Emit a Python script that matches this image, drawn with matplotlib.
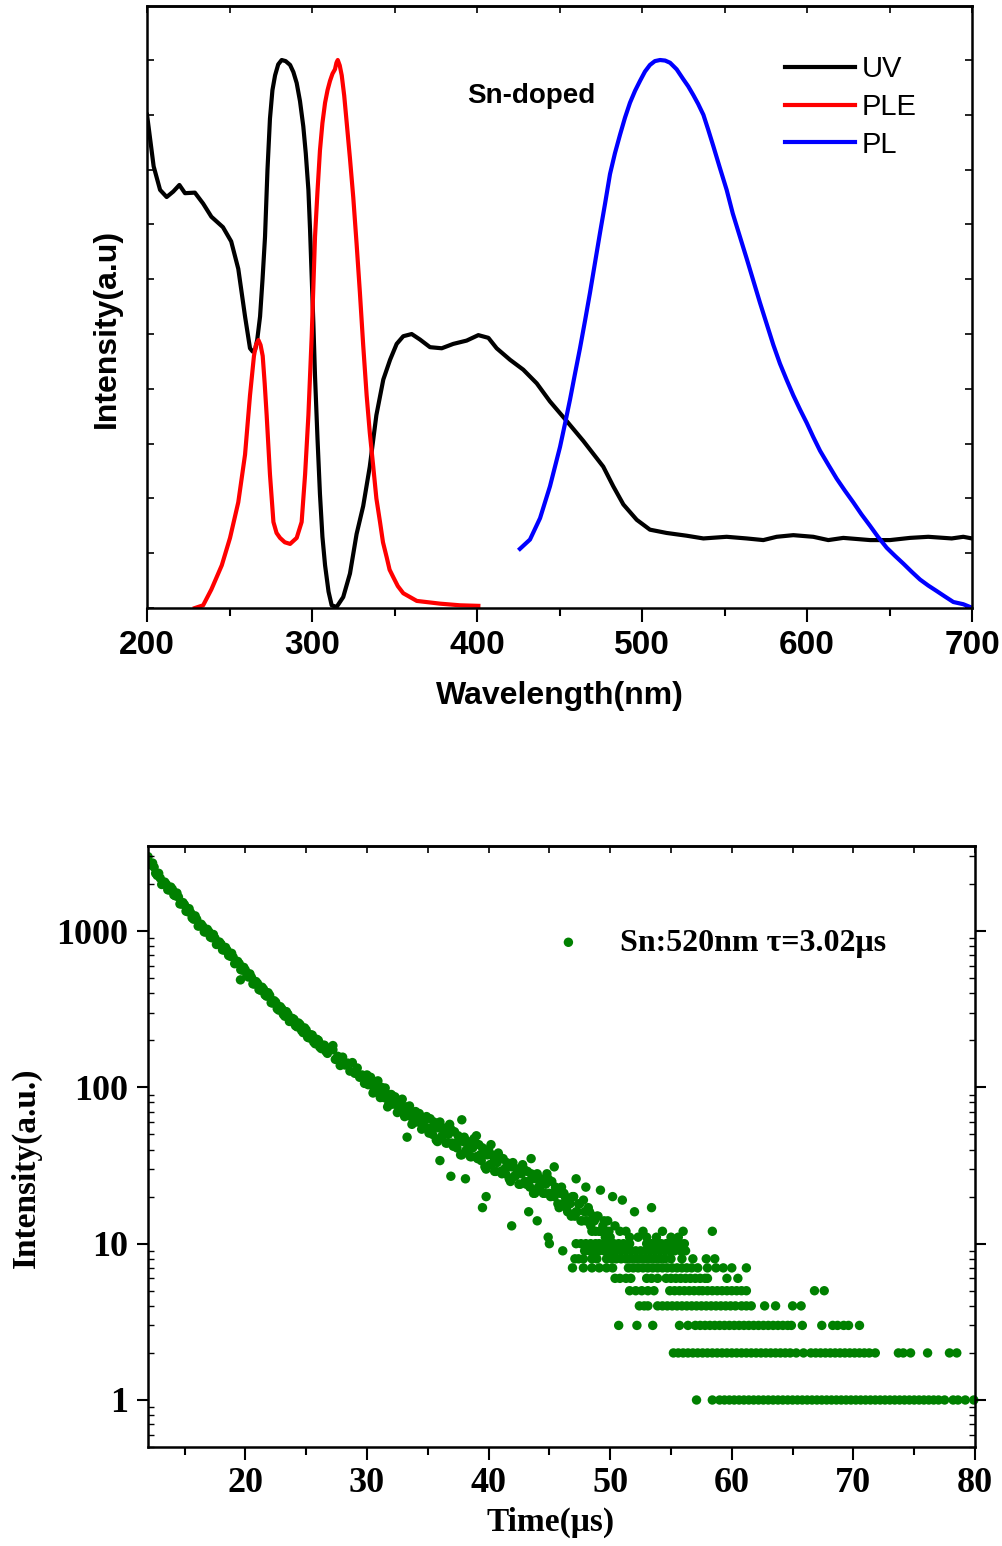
import matplotlib
matplotlib.use('Agg')
import matplotlib.pyplot as plt
from matplotlib import font_manager
from matplotlib.ticker import MultipleLocator, LogLocator, NullFormatter, FixedLocator

# ---- top panel: UV / PLE / PL spectra (normalised) ----
uv_x = [200, 204, 207.9, 211.9, 215.9, 219.6, 223, 229, 234, 239, 246, 251, 255.3, 259.4, 262.4,
        264, 265.5, 266.8, 268.5, 270, 271.5, 273, 274.5, 276, 277.6, 279.5, 281.6, 284, 286.7,
        288.7, 290.7, 292.7, 294.7, 296.2, 297.8, 298.8, 299.8, 300.8, 301.8, 303.3, 304.8, 306.3,
        307.9, 310, 311.9, 314.9, 318.9, 323, 327, 331, 335, 339, 343.2, 347.3, 351.3, 355.3, 360.4,
        365.4, 371.5, 378.6, 385.6, 393.7, 400.8, 406.9, 411.9, 420, 428, 436.2, 444.2, 454.4,
        464.4, 476.5, 482.6, 488.7, 496.8, 504.8, 514.9, 527, 537.2, 551.3, 563.4, 573.5, 581.6,
        591.7, 603.8, 612.9, 622, 638.2, 650.3, 662.4, 673.5, 687.7, 694.7, 700]
uv_y = [0.900, 0.806, 0.763, 0.750, 0.760, 0.772, 0.757, 0.758, 0.738, 0.714, 0.695, 0.669, 0.619,
        0.532, 0.474, 0.468, 0.471, 0.490, 0.532, 0.600, 0.677, 0.800, 0.893, 0.945, 0.972, 0.992,
        1.0, 0.998, 0.991, 0.978, 0.958, 0.925, 0.879, 0.830, 0.763, 0.690, 0.604, 0.520, 0.424,
        0.310, 0.208, 0.130, 0.078, 0.030, 0.005, 0.002, 0.02, 0.063, 0.135, 0.186, 0.258, 0.352,
        0.417, 0.453, 0.482, 0.496, 0.500, 0.490, 0.476, 0.474, 0.482, 0.488, 0.498, 0.493, 0.474,
        0.453, 0.435, 0.410, 0.377, 0.341, 0.305, 0.258, 0.222, 0.189, 0.161, 0.143, 0.137, 0.132,
        0.127, 0.130, 0.127, 0.124, 0.130, 0.133, 0.130, 0.124, 0.128, 0.124, 0.124, 0.128, 0.130,
        0.127, 0.130, 0.127]

ple_x = [229, 234, 239, 245.3, 250.3, 255.3, 259.4, 262.4, 264.8, 266, 267.5, 268.8, 270.1, 271.3,
         272.5, 274.5, 276.6, 278.5, 280.6, 283.5, 286.7, 290.7, 293.7, 295.8, 297.8, 299.8, 301.8,
         303.3, 304.8, 306.3, 307.9, 309.4, 310.9, 312.4, 313.9, 314.8, 315.6, 316.8, 318.0, 319.5,
         321.0, 323, 325, 327, 329, 331, 333.1, 335, 337.1, 339, 341.2, 343, 345.3, 347, 349.3, 352,
         355.3, 363.5, 377.6, 389.7, 400.8]
ple_y = [0.0, 0.005, 0.034, 0.078, 0.128, 0.193, 0.280, 0.388, 0.460, 0.480, 0.489, 0.480, 0.460,
         0.410, 0.352, 0.244, 0.157, 0.137, 0.128, 0.120, 0.117, 0.128, 0.157, 0.244, 0.352, 0.496,
         0.677, 0.760, 0.835, 0.885, 0.922, 0.945, 0.962, 0.975, 0.983, 0.995, 1.0, 0.990, 0.972,
         0.935, 0.886, 0.820, 0.749, 0.665, 0.576, 0.480, 0.388, 0.320, 0.258, 0.200, 0.157, 0.120,
         0.092, 0.070, 0.056, 0.040, 0.027, 0.013, 0.008, 0.005, 0.004]

pl_x = [426, 432.1, 438.2, 444.2, 450.3, 453.3, 456.4, 459.4, 462.4, 465.5, 468.5, 471.5, 474.5,
        477.6, 480.6, 483.6, 486.7, 489.7, 492.7, 495.8, 498.8, 501.8, 504.8, 507.8, 510.9, 514,
        517, 521, 525, 528, 531.1, 534, 537.2, 540, 543.2, 547, 551.3, 555, 559.4, 563.5, 567.5,
        571.5, 575.6, 579.6, 583.6, 587.7, 591.7, 595.8, 599.8, 603.8, 607.9, 613, 618, 623, 628,
        633, 638.2, 643, 648.3, 653.4, 658.4, 663.5, 668.5, 673.5, 678.6, 683.6, 688.7, 694.7,
        698.8]
pl_y = [0.108, 0.125, 0.164, 0.222, 0.294, 0.336, 0.381, 0.428, 0.474, 0.525, 0.576, 0.630, 0.684,
        0.738, 0.792, 0.830, 0.864, 0.895, 0.922, 0.944, 0.962, 0.979, 0.991, 0.998, 1.0, 0.999,
        0.995, 0.983, 0.965, 0.952, 0.936, 0.920, 0.900, 0.874, 0.843, 0.805, 0.763, 0.720, 0.677,
        0.637, 0.597, 0.557, 0.518, 0.480, 0.446, 0.416, 0.388, 0.362, 0.338, 0.312, 0.287, 0.261,
        0.236, 0.214, 0.193, 0.171, 0.150, 0.130, 0.110, 0.095, 0.081, 0.066, 0.052, 0.041, 0.031,
        0.021, 0.011, 0.007, 0.002]

# ---- bottom panel: decay curve (counts vs time) ----
band1_t = [12.0, 12.25, 12.5, 12.75, 13.0, 13.25, 13.5, 13.75, 14.0, 14.25, 14.5, 14.75, 15.0, 15.25,
           15.5, 15.75, 16.0, 16.25, 16.5, 16.75, 17.0, 17.25, 17.5, 17.75, 18.0, 18.25, 18.5, 18.75,
           19.0, 19.25, 19.5, 19.75, 20.0, 20.25, 20.5, 20.75, 21.0, 21.25, 21.5, 21.75, 22.0, 22.25,
           22.5, 22.75, 23.0, 23.25, 23.5, 23.75, 24.0, 24.25, 24.5, 24.75, 25.0, 25.25, 25.5, 25.75,
           26.0, 26.25, 26.5, 26.75, 27.0]
band1_i = [2990, 2650, 2560, 2270, 2180, 2000, 1990, 1830, 1850, 1680, 1650, 1490, 1470, 1330, 1310,
           1190, 1190, 1080, 1070, 985, 990, 905, 900, 828, 825, 755, 752, 690, 680, 622, 618, 562,
           562, 508, 506, 458, 462, 418, 424, 383, 388, 346, 350, 312, 318, 285, 294, 264, 272, 244,
           252, 224, 233, 207, 216, 190, 200, 177, 186, 165, 176]

band1b_t = [12.125, 12.375, 12.625, 12.875, 13.125, 13.375, 13.625, 13.875, 14.125, 14.375, 14.625,
            14.875, 15.125, 15.375, 15.625, 15.875, 16.125, 16.375, 16.625, 16.875, 17.125, 17.375,
            17.625, 17.875, 18.125, 18.375, 18.625, 18.875, 19.125, 19.375, 19.625, 19.875, 20.125,
            20.375, 20.625, 20.875, 21.125, 21.375, 21.625, 21.875, 22.125, 22.375, 22.625, 22.875,
            23.125, 23.375, 23.625, 23.875, 24.125, 24.375, 24.625, 24.875, 25.125, 25.375, 25.625,
            25.875, 26.125, 26.375, 26.625, 26.875]
band1b_i = [2720, 2720, 2340, 2340, 1985, 2055, 1835, 1910, 1700, 1750, 1490, 1520, 1340, 1390,
            1215, 1250, 1075, 1105, 987, 1025, 915, 950, 820, 850, 758, 785, 698, 720, 618, 639,
            566, 585, 519, 532, 459, 475, 422, 437, 390, 403, 348, 358, 318, 328, 293, 305, 264,
            276, 248, 258, 231, 240, 209, 217, 195, 203, 181, 186, 170, 178]

band2_t = [27.2, 27.4, 27.6, 27.8, 28.0, 28.2, 28.4, 28.6, 28.8, 29.0, 29.2, 29.4, 29.6, 29.8, 30.0,
           30.2, 30.4, 30.6, 30.8, 31.0, 31.2, 31.4, 31.6, 31.8, 32.0, 32.2, 32.4, 32.6, 32.8, 33.0,
           33.2, 33.4, 33.6, 33.8, 34.0, 34.2, 34.4, 34.6, 34.8, 35.0, 35.2, 35.4, 35.6, 35.8, 36.0,
           36.2, 36.4, 36.6, 36.8, 37.0, 37.2, 37.4, 37.6, 37.8, 38.0, 38.2, 38.4, 38.6, 38.8, 39.0,
           39.2, 39.4, 39.6, 39.8, 40.0, 40.2, 40.4, 40.6, 40.8, 41.0, 41.2, 41.4, 41.6, 41.8, 42.0,
           42.2, 42.4, 42.6, 42.8, 43.0, 43.2, 43.4, 43.6, 43.8, 44.0, 44.2, 44.4, 44.6, 44.8, 45.0,
           45.2, 45.4, 45.6, 45.8, 46.0, 46.2, 46.4, 46.6, 46.8, 47.0, 47.2, 47.4, 47.6, 47.8, 48.0,
           48.2, 48.4, 48.6, 48.8, 49.0, 49.2, 49.4, 49.6, 49.8, 50.0]
band2_i = [174, 151, 158, 138, 156, 139, 143, 127, 144, 123,
           133, 116, 120, 106, 120, 107, 109, 96, 108, 92,
           100, 86, 91, 79, 90, 80, 81, 72, 82, 70,
           75, 66, 69, 61, 70, 62, 64, 56, 63, 55,
           63, 50, 57, 45, 60, 49, 53, 44, 58, 44,
           52, 41, 46, 37, 48, 40, 44, 36, 47, 36,
           43, 34, 38, 30, 40, 32, 36, 29, 38, 29,
           35, 28, 31, 25, 33, 27, 30, 24, 32, 25,
           29, 23, 26, 21, 28, 23, 25, 21, 28, 21,
           25, 20, 22, 17, 23,
           21, 17, 19, 15, 20, 16, 18, 14, 19, 14, 17, 13, 15, 12, 15, 12, 13, 11, 14, 11]

band3_t = [30.1, 30.3, 30.5, 30.7, 30.9, 31.1, 31.3, 31.5, 31.7, 31.9,
           32.1, 32.3, 32.5, 32.7, 32.9, 33.1, 33.3, 33.5, 33.7, 33.9,
           34.1, 34.3, 34.5, 34.7, 34.9, 35.1, 35.3, 35.5, 35.7, 35.9,
           36.1, 36.3, 36.5, 36.7, 36.9, 37.1, 37.3, 37.5, 37.7, 37.9,
           38.1, 38.3, 38.5, 38.7, 38.9, 39.1, 39.3, 39.5, 39.7, 39.9,
           40.1, 40.3, 40.5, 40.7, 40.9, 41.1, 41.3, 41.5, 41.7, 41.9,
           42.1, 42.3, 42.5, 42.7, 42.9, 43.1, 43.3, 43.5, 43.7, 43.9,
           44.1, 44.3, 44.5, 44.7, 44.9, 45.1, 45.3, 45.5, 45.7, 45.9,
           46.1, 46.3, 46.5, 46.7, 46.9, 47.1, 47.3, 47.5, 47.7, 47.9,
           48.1, 48.3, 48.5, 48.7, 48.9, 49.1, 49.3, 49.5, 49.7, 49.9]
band3_i = [104, 116, 92, 104, 110, 86, 90, 99, 75, 89,
           78, 87, 69, 78, 84, 65, 68, 76, 58, 69,
           60, 68, 54, 61, 65, 51, 54, 60, 46, 55,
           48, 55, 44, 50, 54, 42, 44, 49, 37, 45,
           39, 45, 36, 41, 44, 35, 37, 41, 31, 37,
           32, 37, 29, 33, 36, 28, 30, 33, 26, 31,
           27, 30, 24, 28, 30, 24, 25, 28, 21, 26,
           23, 26, 21, 24, 26, 20, 21, 23, 18, 21,
           18, 20, 16, 18, 20, 15, 16, 18, 14, 16,
           14, 16, 12, 14, 15, 12, 12, 14, 11, 12]

extra_t = [19.6, 27.2, 33.3, 36.0, 36.9, 37.8, 38.1, 39.0, 39.5, 39.8, 40.2, 41.9, 43.3, 43.5, 44.0,
           44.9, 45.4, 47.2, 48.0, 49.2, 50.2, 51.0, 52.0, 53.4, 58.4, 50.4, 50.8, 51.3, 51.6, 52.3,
           52.7, 53.0, 53.8, 54.3, 55.0, 55.6, 56.0]
extra_i = [487, 185, 48, 34, 27, 62, 26, 49, 17, 20, 43, 13, 16, 35, 14,
           11, 31, 26, 23, 22, 20, 19, 16, 17, 12, 13, 12, 12, 11, 11,
           12, 11, 11, 12, 11, 11, 12]

# low-count rows: times at which each integer count level appears
row_levels = [1, 2, 3, 4, 5, 6, 7, 8, 9, 10]
row_times = [
    [57.1, 58.4, 59.0, 59.4, 59.8, 60.2, 60.6, 61.0, 61.4, 61.8, 62.2, 62.6, 63.0, 63.4, 63.8, 64.2,
     64.6, 65.0, 65.4, 65.8, 66.2, 66.6, 67.0, 67.4, 67.8, 68.2, 68.6, 69.0, 69.4, 69.8, 70.2, 70.6,
     71.0, 71.4, 71.8, 72.2, 72.6, 73.0, 73.4, 73.8, 74.2, 74.6, 75.0, 75.4, 75.8, 76.2, 76.6, 77.0,
     77.5, 78.2, 78.6, 79.2, 79.9],
    [55.2, 55.6, 56.0, 56.4, 56.8, 57.2, 57.6, 58.0, 58.4, 58.8, 59.2, 59.6, 60.0, 60.4, 60.8, 61.2,
     61.6, 62.0, 62.4, 62.8, 63.2, 63.6, 64.0, 64.4, 64.8, 65.3, 65.9, 66.5, 66.9, 67.3, 67.7, 68.1,
     68.5, 68.9, 69.3, 69.7, 70.1, 70.5, 70.9, 71.3, 71.8, 73.7, 74.1, 74.7, 76.1, 77.9, 78.5],
    [50.7, 52.2, 53.5, 55.7, 56.4, 57.0, 57.4, 57.8, 58.2, 58.6, 59.0, 59.4, 59.8, 60.2, 60.6, 61.0,
     61.4, 61.8, 62.2, 62.6, 63.0, 63.4, 63.8, 64.2, 64.6, 64.9, 65.8, 67.4, 68.3, 68.7, 69.2, 69.6,
     70.5],
    [52.4, 52.8, 53.1, 53.9, 54.3, 54.7, 55.1, 55.5, 55.9, 56.3, 56.7, 57.1, 57.5, 57.9, 58.3, 58.7,
     59.1, 59.5, 59.9, 60.3, 60.8, 61.2, 61.6, 62.7, 63.6, 65.0, 65.7],
    [51.6, 52.1, 52.6, 53.1, 53.6, 54.9, 55.3, 55.7, 56.1, 56.5, 56.9, 57.3, 57.6, 58.0, 58.4, 58.8,
     59.2, 59.6, 60.0, 60.4, 60.8, 61.2, 66.8, 67.6],
    [50.4, 50.8, 51.3, 51.7, 53.0, 53.4, 53.9, 54.6, 55.0, 55.4, 55.8, 56.2, 56.6, 57.0, 57.4, 57.8,
     58.0, 59.6, 60.5],
    [46.9, 47.8, 48.5, 49.1, 49.7, 50.2, 51.5, 51.9, 52.3, 52.7, 53.1, 53.5, 53.9, 54.3, 54.7, 55.1,
     55.5, 55.9, 56.3, 56.7, 57.2, 58.0, 58.7, 59.3, 60.0, 61.2],
    [47.1, 47.4, 47.8, 48.5, 48.9, 49.7, 50.1, 50.5, 50.9, 51.3, 51.7, 52.1, 52.5, 52.9, 53.3, 53.7,
     54.1, 54.5, 55.0, 55.9, 56.8, 57.9, 58.6],
    [46.1, 47.9, 48.3, 48.7, 49.1, 49.5, 49.9, 50.2, 50.5, 50.9, 51.3, 51.7, 52.1, 52.5, 52.9, 53.3,
     53.7, 54.1, 54.5, 54.9, 55.3, 55.8, 56.2],
    [45.0, 47.2, 47.6, 48.0, 48.4, 48.8, 49.1, 49.5, 49.9, 50.3, 50.7, 51.1, 51.6, 53.0, 53.4, 53.8,
     54.2, 54.6, 55.0, 55.4, 55.8, 56.1],
]

# fonts
installed = {f.name for f in font_manager.fontManager.ttflist}
if 'Liberation Sans Narrow' in installed:
    sans = 'Liberation Sans Narrow'
    fs_tick, fs_lab, fs_sn, fs_leg = 26, 27, 25, 26
else:
    sans = 'Liberation Sans'
    fs_tick, fs_lab, fs_sn, fs_leg = 24, 23, 20, 21
serif = 'Liberation Serif'

fig = plt.figure(figsize=(10.03, 15.46), dpi=100)

# ================= top panel =================
ax1 = fig.add_axes([0.1466, 0.6067, 0.8225, 0.3894])
ax1.plot(uv_x, uv_y, color='black', lw=3.0, solid_joinstyle='round', label='UV')
ax1.plot(ple_x, ple_y, color='#ff0000', lw=3.0, solid_joinstyle='round', label='PLE')
ax1.plot(pl_x, pl_y, color='#0000ff', lw=3.0, solid_joinstyle='round', label='PL')
ax1.set_xlim(200, 700)
ax1.set_ylim(0, 1.0985)
ax1.xaxis.set_major_locator(MultipleLocator(100))
ax1.xaxis.set_minor_locator(MultipleLocator(50))
ax1.yaxis.set_major_locator(MultipleLocator(0.1))
ax1.yaxis.set_major_formatter(NullFormatter())
ax1.tick_params(axis='x', which='major', direction='out', length=10, width=1.5, pad=6,
                labelsize=fs_tick, top=False)
ax1.tick_params(axis='x', which='minor', direction='out', length=6, width=1.5, top=False)
ax1.tick_params(axis='y', which='major', direction='in', length=5, width=1.2, left=True, right=True)
for lbl in ax1.get_xticklabels():
    lbl.set_fontfamily(sans)
    lbl.set_fontweight('bold')
for sp in ax1.spines.values():
    sp.set_linewidth(1.8)
top1 = ax1.secondary_xaxis('top')
top1.xaxis.set_major_locator(MultipleLocator(50))
top1.tick_params(direction='in', length=5, width=1.2, labeltop=False)
top1.spines['top'].set_linewidth(1.8)

ax1.set_xlabel('Wavelength(nm)', fontsize=fs_lab, fontweight='bold', family=sans)
ax1.xaxis.set_label_coords(0.5, -0.122)
ax1.set_ylabel('Intensity(a.u)', fontsize=fs_lab, fontweight='bold', family=sans)
ax1.yaxis.set_label_coords(-0.030, 0.465)
ax1.text(0.388, 0.850, 'Sn-doped', transform=ax1.transAxes, fontsize=fs_sn, fontweight='bold',
         family=sans, ha='left', va='center')
ax1.legend(loc='upper left', bbox_to_anchor=(0.773, 0.918), frameon=False,
           prop={'family': sans, 'size': fs_leg}, handlelength=2.4, handletextpad=0.25,
           labelspacing=0.33, borderpad=0, borderaxespad=0)

# ================= bottom panel =================
ax2 = fig.add_axes([0.1476, 0.064, 0.8245, 0.3888])
green = '#008000'
ms = 46
ax2.scatter(band1_t, band1_i, s=ms, color=green, edgecolors='none',
            label='Sn:520nm \u03c4=3.02\u03bcs')
ax2.scatter(band1b_t, band1b_i, s=ms, color=green, edgecolors='none')
ax2.scatter(band2_t, band2_i, s=ms, color=green, edgecolors='none')
ax2.scatter(band3_t, band3_i, s=ms, color=green, edgecolors='none')
ax2.scatter(extra_t, extra_i, s=ms, color=green, edgecolors='none')
for lev, ts in zip(row_levels, row_times):
    ax2.scatter(ts, [lev] * len(ts), s=ms, color=green, edgecolors='none', clip_on=False)
ax2.set_yscale('log')
ax2.set_xlim(12, 80)
ax2.set_ylim(0.5, 3500)
ax2.xaxis.set_major_locator(MultipleLocator(10))
ax2.xaxis.set_minor_locator(MultipleLocator(5))
ax2.yaxis.set_major_locator(FixedLocator([1, 10, 100, 1000]))
ax2.yaxis.set_minor_locator(LogLocator(base=10, subs=range(2, 10)))
ax2.yaxis.set_minor_formatter(NullFormatter())
ax2.set_yticklabels(['1', '10', '100', '1000'])
ax2.tick_params(axis='x', which='major', direction='out', length=9, width=1.5, pad=5,
                labelsize=fs_tick + 2, top=False)
ax2.tick_params(axis='x', which='minor', direction='out', length=6, width=1.5, top=False)
ax2.tick_params(axis='y', which='major', direction='out', length=8, width=1.5, pad=6,
                labelsize=fs_tick + 2, right=True)
ax2.tick_params(axis='y', which='minor', direction='in', length=4, width=1.0, right=True)
for lbl in ax2.get_xticklabels() + ax2.get_yticklabels():
    lbl.set_fontfamily(serif)
    lbl.set_fontweight('bold')
for sp in ax2.spines.values():
    sp.set_linewidth(1.8)
top2 = ax2.secondary_xaxis('top')
top2.xaxis.set_major_locator(MultipleLocator(5))
top2.tick_params(direction='in', length=5, width=1.2, labeltop=False)
top2.spines['top'].set_linewidth(1.8)

ax2.set_xlabel('Time(\u03bcs)', fontsize=24, fontweight='bold', family=serif)
ax2.xaxis.set_label_coords(0.487, -0.100)
ax2.set_ylabel('Intensity(a.u.)', fontsize=24, fontweight='bold', family=serif)
ax2.yaxis.set_label_coords(-0.128, 0.464)
ax2.legend(loc='center left', bbox_to_anchor=(0.489, 0.8386), frameon=False,
           prop={'family': serif, 'size': 23, 'weight': 'bold'}, handlelength=1.0,
           handletextpad=1.1, borderpad=0, borderaxespad=0, scatterpoints=1)

fig.savefig('out.png', dpi=100)
